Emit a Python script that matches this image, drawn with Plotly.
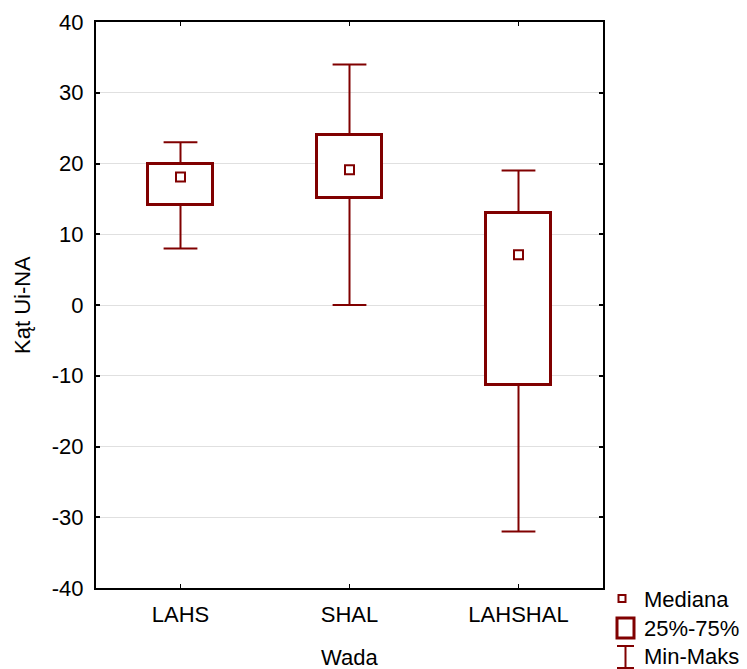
import plotly.graph_objects as go

categories = ["LAHS", "SHAL", "LAHSHAL"]
mins = [8, 0, -32]
q1s = [14.1, 15.1, -11.3]
medians = [18.1, 19.1, 7.1]
q3s = [20, 24, 13]
maxs = [23, 34, 19]
y_ticks = [-40, -30, -20, -10, 0, 10, 20, 30, 40]
y_tick_text = ["-40", "-30", "-20", "-10", "0", "10", "20", "30", "40"]

COLOR = "#800000"
FONT = "Liberation Sans, Arial, sans-serif"
FS = 22
BOX_W = 0.39
CAP_W = 0.2

W, H = 747, 669
L, R, T, B = 96, 144, 22, 81
PW, PH = W - L - R, H - T - B

def px(xp):
    return (xp - L) / PW

def py(yp):
    return (H - B - yp) / PH

fig = go.Figure()
xs = list(range(len(categories)))

# boxes
fig.add_trace(go.Bar(
    x=xs, y=[q3 - q1 for q1, q3 in zip(q1s, q3s)], base=q1s, width=BOX_W,
    marker=dict(color="white", line=dict(color=COLOR, width=3)),
    showlegend=False, hoverinfo="skip"))

# whiskers and caps
wx, wy = [], []
for i in xs:
    wx += [i, i, None, i, i, None, i - CAP_W / 2, i + CAP_W / 2, None, i - CAP_W / 2, i + CAP_W / 2, None]
    wy += [q3s[i], maxs[i], None, q1s[i], mins[i], None, maxs[i], maxs[i], None, mins[i], mins[i], None]
fig.add_trace(go.Scatter(x=wx, y=wy, mode="lines", line=dict(color=COLOR, width=2),
                         showlegend=False, hoverinfo="skip"))

# medians
fig.add_trace(go.Scatter(x=xs, y=medians, mode="markers",
                         marker=dict(symbol="square-open", size=9, color=COLOR, line=dict(width=2, color=COLOR)),
                         showlegend=False, hoverinfo="skip"))

shapes = []
annotations = []
# legend: median square
shapes.append(dict(type="rect", xref="paper", yref="paper",
                   x0=px(618.5), x1=px(625.5), y0=py(602), y1=py(595),
                   line=dict(color=COLOR, width=2), fillcolor="white"))
# legend: box
shapes.append(dict(type="rect", xref="paper", yref="paper",
                   x0=px(617), x1=px(634), y0=py(638), y1=py(618),
                   line=dict(color=COLOR, width=3), fillcolor="white"))
# legend: whisker
shapes.append(dict(type="line", xref="paper", yref="paper",
                   x0=px(617), x1=px(634), y0=py(646), y1=py(646), line=dict(color=COLOR, width=2)))
shapes.append(dict(type="line", xref="paper", yref="paper",
                   x0=px(625.5), x1=px(625.5), y0=py(646), y1=py(668), line=dict(color=COLOR, width=2)))
shapes.append(dict(type="line", xref="paper", yref="paper",
                   x0=px(617), x1=px(634), y0=py(668), y1=py(668), line=dict(color=COLOR, width=2)))

for label, yc in [("Mediana", 599), ("25%-75%", 628), ("Min-Maks", 656)]:
    annotations.append(dict(text=label, xref="paper", yref="paper", x=px(642), y=py(yc),
                            xanchor="left", yanchor="middle", showarrow=False,
                            font=dict(family=FONT, size=FS, color="black")))

# axis titles
annotations.append(dict(text="Wada", xref="paper", yref="paper", x=0.5, y=py(657),
                        xanchor="center", yanchor="middle", showarrow=False,
                        font=dict(family=FONT, size=FS, color="black")))
annotations.append(dict(text="Kąt Ui-NA", xref="paper", yref="paper", x=px(22), y=py(305),
                        xanchor="center", yanchor="middle", showarrow=False, textangle=-90,
                        font=dict(family=FONT, size=FS, color="black")))

fig.update_layout(
    width=W, height=H,
    margin=dict(l=L, r=R, t=T, b=B),
    paper_bgcolor="white", plot_bgcolor="white",
    font=dict(family=FONT, size=FS, color="black"),
    bargap=0,
    shapes=shapes, annotations=annotations,
    xaxis=dict(range=[-0.5, 2.5], tickmode="array", tickvals=xs, ticktext=categories,
               showgrid=False, zeroline=False, showline=True, linecolor="black", linewidth=2,
               mirror="ticks", ticks="inside", ticklen=4, tickwidth=1, tickcolor="black",
               ticklabelstandoff=6, automargin=False),
    yaxis=dict(range=[-40, 40], tickmode="array", tickvals=y_ticks, ticktext=y_tick_text,
               showgrid=True, gridcolor="#e0e0e0", gridwidth=1, zeroline=False,
               showline=True, linecolor="black", linewidth=2,
               mirror="ticks", ticks="inside", ticklen=4, tickwidth=2, tickcolor="black",
               ticklabelstandoff=6, automargin=False),
)

fig.write_html("out.html")
